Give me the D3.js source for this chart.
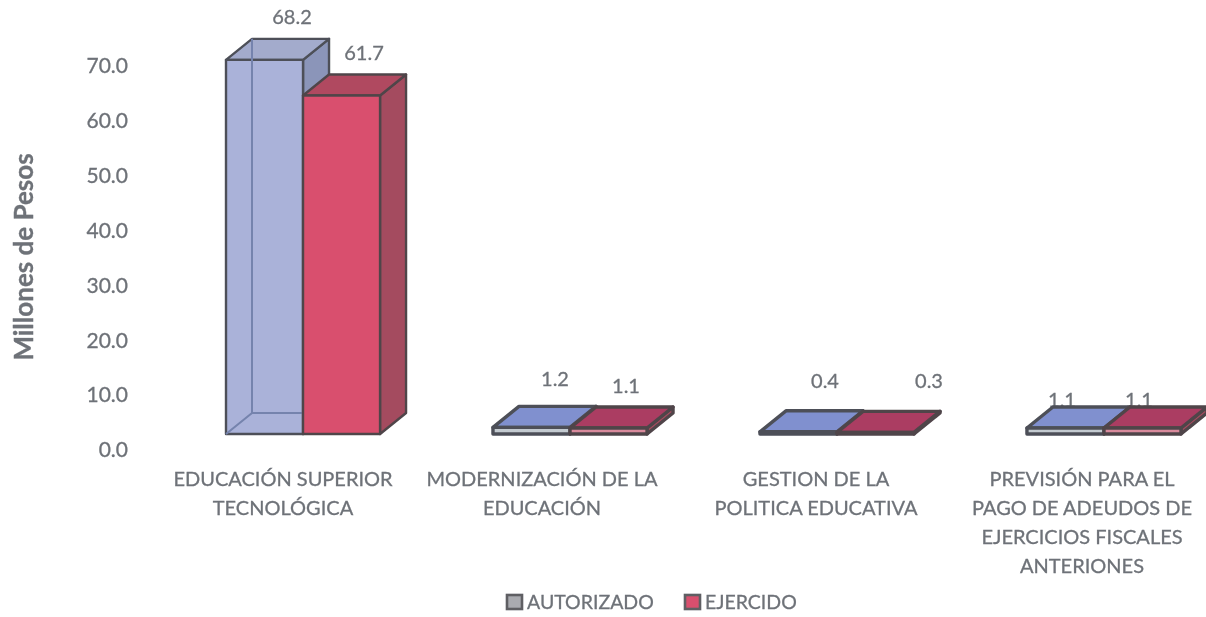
<!DOCTYPE html>
<html lang="en">

<head>
    <meta charset="UTF-8">
    <title>Millones de Pesos</title>
    <script src="https://d3js.org/d3.v7.min.js"></script>
    <style>
        html, body { margin: 0; background: #fff; }
        svg { display: block; }
        text { font-family: Lato, "Open Sans", sans-serif; fill: #6e7278; stroke: #6e7278; stroke-width: 0.3px; }
        .tick text { font-size: 21px; }
        .value { font-size: 20px; text-anchor: middle; }
        .cat { font-size: 20px; text-anchor: middle; }
        .legend { font-size: 19.5px; }
        .ytitle { font-size: 26px; font-weight: 700; text-anchor: middle; }
    </style>
</head>

<body>
    <script>
        // data
        const categories = [
            ["EDUCACIÓN SUPERIOR", "TECNOLÓGICA"],
            ["MODERNIZACIÓN DE LA", "EDUCACIÓN"],
            ["GESTION DE LA", "POLITICA EDUCATIVA"],
            ["PREVISIÓN PARA EL", "PAGO DE ADEUDOS DE", "EJERCICIOS FISCALES", "ANTERIONES"]
        ];
        const seriesNames = ["AUTORIZADO", "EJERCIDO"];
        const autorizado = [68.2, 1.2, 0.4, 1.1];
        const ejercido = [61.7, 1.1, 0.3, 1.1];
        const yTicks = [0, 10, 20, 30, 40, 50, 60, 70];

        // layout, tuned by eye
        const width = 1206, height = 617;
        const depthX = 26, depthY = 21;
        const baseY = 434, tickShift = 16;
        const colors = [
            { front: "#aab2d9", side: "#8b95b9", top: "#a3abcc", flat: "#8090cf", lip: "#c3cad0", edge: "#4d5058", inner: "#7583ad" },
            { front: "#d9506e", side: "#a44b5e", top: "#b04a60", flat: "#ab3c62", lip: "#d98a9c", edge: "#50454a" }
        ];
        // label spots per group: [centre x, baseline y] for each series
        const valueSpots = [[[292, 24], [364, 60]], [[555, 386], [626, 393]], [[825, 388], [929, 388]], [[1062, 407], [1139, 407]]];
        const catCentres = [283, 542, 816, 1082];
        const legendX = [505, 683];

        const svg = d3.select("body").append("svg")
            .attr("width", width)
            .attr("height", height);

        svg.append("filter").attr("id", "soft")
            .append("feGaussianBlur").attr("stdDeviation", 0.55);

        const chart = svg.append("g").attr("filter", "url(#soft)");

        const x0 = d3.scaleBand()
            .domain(d3.range(categories.length))
            .range([226, 1181])
            .paddingInner(0.423);
        const x1 = d3.scaleBand()
            .domain(d3.range(seriesNames.length))
            .range([0, x0.bandwidth()]);
        const y = d3.scaleLinear().domain([0, 70]).range([baseY, baseY - 384]);

        // y axis, numbers sit lower than the bar floor like in the original
        chart.append("g")
            .attr("transform", `translate(128,${tickShift})`)
            .call(d3.axisLeft(y).tickValues(yTicks).tickSize(0).tickPadding(0).tickFormat(d3.format(".1f")))
            .call(g => g.select(".domain").remove());

        chart.append("text")
            .attr("class", "ytitle")
            .attr("transform", "translate(33,257) rotate(-90)")
            .text("Millones de Pesos");

        function poly(parent, pts, fill, stroke, sw) {
            parent.append("path")
                .attr("d", "M" + pts.map(p => p.join(",")).join("L") + "Z")
                .attr("fill", fill)
                .attr("stroke", stroke)
                .attr("stroke-width", sw)
                .attr("stroke-linejoin", "round");
        }

        const rows = categories.map((c, i) => [autorizado[i], ejercido[i]]);

        // labels go first, the last group has them cut by the bars
        rows.forEach((vals, i) => {
            vals.forEach((v, s) => {
                chart.append("text")
                    .attr("class", "value")
                    .attr("x", valueSpots[i][s][0])
                    .attr("y", valueSpots[i][s][1])
                    .text(v.toFixed(1));
            });
        });

        rows.forEach((vals, i) => {
            vals.forEach((v, s) => {
                const c = colors[s];
                const l = x0(i) + x1(s), r = l + x1.bandwidth();
                const t = y(v), b = y(0);
                const g = chart.append("g");
                const tall = v > 10;
                const sw = tall ? 2.4 : 3.4;
                // side
                poly(g, [[r, t], [r + depthX, t - depthY], [r + depthX, b - depthY], [r, b]], c.side, c.edge, sw);
                // top
                poly(g, [[l, t], [r, t], [r + depthX, t - depthY], [l + depthX, t - depthY]], tall ? c.top : c.flat, c.edge, sw);
                // front
                poly(g, [[l, t], [r, t], [r, b], [l, b]], tall ? c.front : c.lip, c.edge, sw);
                // the blue bar shows its back edges through the front
                if (tall && s === 0) {
                    g.append("path")
                        .attr("d", `M${l + depthX},${t - depthY}L${l + depthX},${b - depthY}L${l},${b}M${l + depthX},${b - depthY}L${r},${b - depthY}`)
                        .attr("fill", "none")
                        .attr("stroke", c.inner)
                        .attr("stroke-width", 2);
                }
            });
        });

        // category labels
        categories.forEach((lines, i) => {
            const t = chart.append("text").attr("class", "cat");
            lines.forEach((line, k) => {
                t.append("tspan")
                    .attr("x", catCentres[i])
                    .attr("y", 486 + k * 29)
                    .text(line);
            });
        });

        // legend
        seriesNames.forEach((name, s) => {
            chart.append("rect")
                .attr("x", legendX[s] + 2)
                .attr("y", 595)
                .attr("width", 15)
                .attr("height", 14)
                .attr("fill", s === 0 ? "#aaabb0" : "#d9506e")
                .attr("stroke", "#5e5e64")
                .attr("stroke-width", 2.6);
            chart.append("text")
                .attr("class", "legend")
                .attr("x", legendX[s] + 22)
                .attr("y", 609)
                .text(name);
        });
    </script>

</body>

</html>
